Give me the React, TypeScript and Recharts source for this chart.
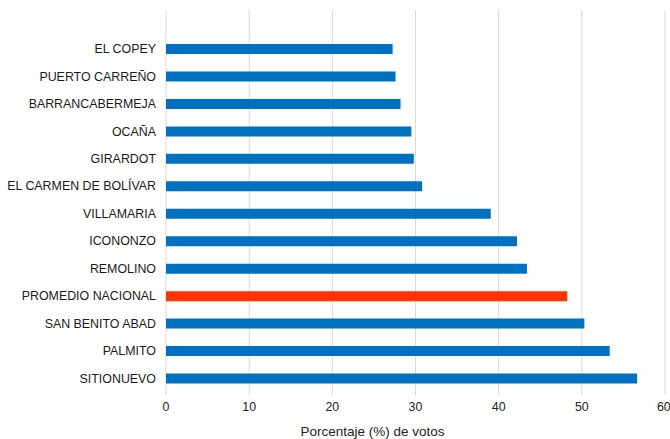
import { BarChart, Bar, XAxis, YAxis, CartesianGrid, Cell } from "recharts";

// municipios, de arriba hacia abajo
const places = [
  "EL COPEY",
  "PUERTO CARREÑO",
  "BARRANCABERMEJA",
  "OCAÑA",
  "GIRARDOT",
  "EL CARMEN DE BOLÍVAR",
  "VILLAMARIA",
  "ICONONZO",
  "REMOLINO",
  "PROMEDIO NACIONAL",
  "SAN BENITO ABAD",
  "PALMITO",
  "SITIONUEVO",
];
const votes = [27.25, 27.6, 28.2, 29.5, 29.8, 30.8, 39.05, 42.2, 43.4, 48.25, 50.3, 53.35, 56.65];
const xTicks = [0, 10, 20, 30, 40, 50, 60];
const highlight = "PROMEDIO NACIONAL";

const BLUE = "#0070c0";
const RED = "#ff3300";
const FONT = "'Liberation Sans', Arial, sans-serif";

const rows = places.map((name, i) => ({ name, value: votes[i] }));

// single-line category label (recharts would wrap the long ones)
const PlaceTick = (props: any) => {
  const { x, y, payload } = props;
  return (
    <text x={x} y={y} dy="0.355em" textAnchor="end" fontSize={12.4} fill="#1a1a1a" fontFamily={FONT}>
      {payload.value}
    </text>
  );
};

export default function App() {
  return (
    <div style={{ width: 670, height: 439, background: "#fff" }}>
      <style>{"body{margin:0}"}</style>
      <BarChart
        width={670}
        height={439}
        data={rows}
        layout="vertical"
        margin={{ top: 10, right: 5, bottom: 0, left: 0 }}
        style={{ fontFamily: FONT }}
      >
        <CartesianGrid horizontal={false} stroke="#d9d9d9" />
        <XAxis
          type="number"
          domain={[0, 60]}
          ticks={xTicks}
          axisLine={false}
          tickLine={false}
          tickSize={0}
          tickMargin={7}
          height={44}
          tick={{ fontSize: 12.4, fill: "#222", fontFamily: FONT }}
          label={{
            value: "Porcentaje (%) de votos",
            position: "insideBottom",
            offset: 3,
            dx: -43,
            fontSize: 13.5,
            fill: "#222",
            fontFamily: FONT,
          }}
        />
        <YAxis
          type="category"
          dataKey="name"
          width={166}
          axisLine={false}
          tickLine={false}
          tickSize={0}
          tickMargin={10}
          interval={0}
          padding={{ top: 25, bottom: 3 }}
          tick={<PlaceTick />}
        />
        <Bar dataKey="value" barSize={10} isAnimationActive={false}>
          {rows.map((r) => (
            <Cell key={r.name} fill={r.name === highlight ? RED : BLUE} />
          ))}
        </Bar>
      </BarChart>
    </div>
  );
}
